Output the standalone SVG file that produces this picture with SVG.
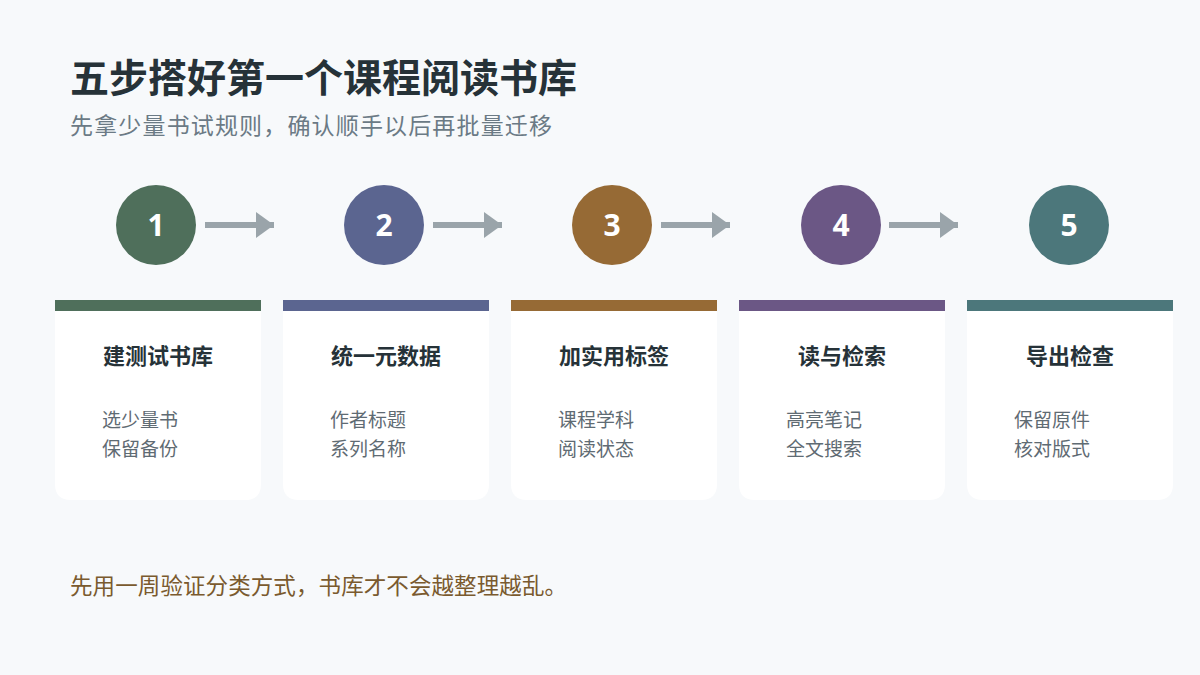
<svg xmlns="http://www.w3.org/2000/svg" width="1200" height="675" viewBox="0 0 1200 675">
<defs>
<style>
text{font-family:"Noto Sans CJK SC","Noto Sans",sans-serif}
.num{font-family:"Open Sans","Noto Sans",sans-serif;font-size:30px;font-weight:700;fill:#fff;text-anchor:middle}
.t{font-size:22px;font-weight:700;fill:#263238;text-anchor:middle}
.b{font-size:19px;fill:#5f6b73}
.card{fill:#fff}
.arr{stroke:#9aa4aa;stroke-width:6;fill:none}
</style>
<marker id="ah" markerUnits="userSpaceOnUse" markerWidth="20" markerHeight="26" refX="18" refY="13" orient="auto"><path d="M0,0 L18,13 L0,26 Z" fill="#9aa4aa"/></marker>
</defs>
<rect width="1200" height="675" fill="#f7f9fb"/>
<text x="70" y="92" font-size="39" font-weight="700" fill="#263238">五步搭好第一个课程阅读书库</text>
<text x="70" y="134" font-size="23" textLength="482" fill="#6b7a85">先拿少量书试规则，确认顺手以后再批量迁移</text>
<g id="connectors">
<line class="arr" x1="205" y1="225" x2="274" y2="225" marker-end="url(#ah)"/>
<line class="arr" x1="433" y1="225" x2="502" y2="225" marker-end="url(#ah)"/>
<line class="arr" x1="661" y1="225" x2="730" y2="225" marker-end="url(#ah)"/>
<line class="arr" x1="889" y1="225" x2="958" y2="225" marker-end="url(#ah)"/>
</g>
<g id="step1">
<circle cx="156" cy="225" r="40" fill="#4f6f5b"/><text class="num" x="156" y="236">1</text>
<path class="card" d="M55,311 H261 V484 Q261,500 245,500 H71 Q55,500 55,484 Z"/><rect x="55" y="300" width="206" height="11" fill="#4f6f5b"/>
<text class="t" x="158" y="364">建测试书库</text><text class="b" x="102" y="427">选少量书</text><text class="b" x="102" y="456">保留备份</text>
</g>
<g id="step2">
<circle cx="384" cy="225" r="40" fill="#5b6590"/><text class="num" x="384" y="236">2</text>
<path class="card" d="M283,311 H489 V484 Q489,500 473,500 H299 Q283,500 283,484 Z"/><rect x="283" y="300" width="206" height="11" fill="#5b6590"/>
<text class="t" x="386" y="364">统一元数据</text><text class="b" x="330" y="427">作者标题</text><text class="b" x="330" y="456">系列名称</text>
</g>
<g id="step3">
<circle cx="612" cy="225" r="40" fill="#966a35"/><text class="num" x="612" y="236">3</text>
<path class="card" d="M511,311 H717 V484 Q717,500 701,500 H527 Q511,500 511,484 Z"/><rect x="511" y="300" width="206" height="11" fill="#966a35"/>
<text class="t" x="614" y="364">加实用标签</text><text class="b" x="558" y="427">课程学科</text><text class="b" x="558" y="456">阅读状态</text>
</g>
<g id="step4">
<circle cx="841" cy="225" r="40" fill="#6b5785"/><text class="num" x="841" y="236">4</text>
<path class="card" d="M739,311 H945 V484 Q945,500 929,500 H755 Q739,500 739,484 Z"/><rect x="739" y="300" width="206" height="11" fill="#6b5785"/>
<text class="t" x="842" y="364">读与检索</text><text class="b" x="786" y="427">高亮笔记</text><text class="b" x="786" y="456">全文搜索</text>
</g>
<g id="step5">
<circle cx="1069" cy="225" r="40" fill="#4c777b"/><text class="num" x="1069" y="236">5</text>
<path class="card" d="M967,311 H1173 V484 Q1173,500 1157,500 H983 Q967,500 967,484 Z"/><rect x="967" y="300" width="206" height="11" fill="#4c777b"/>
<text class="t" x="1070" y="364">导出检查</text><text class="b" x="1014" y="427">保留原件</text><text class="b" x="1014" y="456">核对版式</text>
</g>
<text x="70" y="594" font-size="22.5" textLength="497" fill="#7a5a2e">先用一周验证分类方式，书库才不会越整理越乱。</text>
</svg>
